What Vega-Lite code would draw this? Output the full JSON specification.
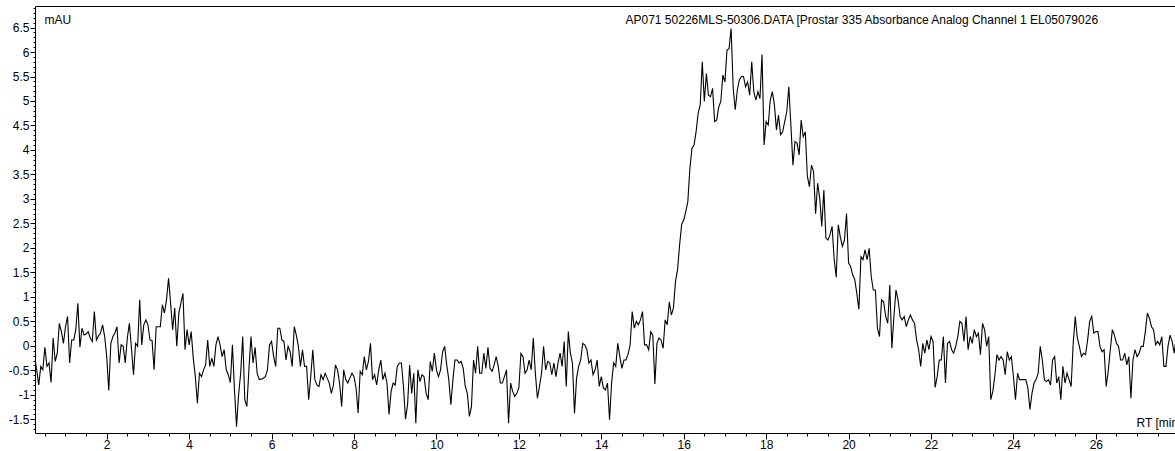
{
"$schema": "https://vega.github.io/schema/vega-lite/v6.json",
"autosize": {"type": "none"},
"padding": {"left": 35, "top": 6, "right": 0, "bottom": 18},
"width": 1140,
"height": 427,
"background": "white",
"config": {
 "view": {"stroke": null},
 "font": "Liberation Sans",
 "axis": {"grid": false, "domainColor": "black", "domainWidth": 1, "tickColor": "black", "tickWidth": 1, "labelColor": "black", "labelFont": "Liberation Sans", "labelFontSize": 12, "titleFont": "Liberation Sans", "titleFontSize": 12, "titleFontWeight": "normal", "titleColor": "black"}
},
"data": {"values": [
{"t":0.25,"v":-0.22},{"t":0.30,"v":-0.49},{"t":0.35,"v":-0.80},{"t":0.40,"v":-0.42},{"t":0.45,"v":-0.49},{"t":0.50,"v":-0.03},{"t":0.55,"v":-0.42},{"t":0.60,"v":-0.35},{"t":0.65,"v":-0.75},{"t":0.70,"v":0.16},{"t":0.75,"v":-0.32},{"t":0.80,"v":-0.15},{"t":0.85,"v":0.46},{"t":0.90,"v":0.29},{"t":0.95,"v":0.05},{"t":1.00,"v":0.39},{"t":1.05,"v":0.60},{"t":1.10,"v":-0.35},{"t":1.15,"v":0.12},{"t":1.20,"v":0.12},{"t":1.25,"v":0.33},{"t":1.30,"v":0.87},{"t":1.35,"v":-0.03},{"t":1.40,"v":0.36},{"t":1.45,"v":0.22},{"t":1.50,"v":0.24},{"t":1.55,"v":0.29},{"t":1.60,"v":0.16},{"t":1.65,"v":0.09},{"t":1.70,"v":0.70},{"t":1.75,"v":0.12},{"t":1.80,"v":0.20},{"t":1.85,"v":0.26},{"t":1.90,"v":0.43},{"t":1.95,"v":0.19},{"t":2.00,"v":-0.22},{"t":2.05,"v":-0.91},{"t":2.10,"v":0.05},{"t":2.15,"v":0.19},{"t":2.20,"v":0.26},{"t":2.25,"v":0.39},{"t":2.30,"v":-0.35},{"t":2.35,"v":0.02},{"t":2.40,"v":-0.01},{"t":2.45,"v":-0.35},{"t":2.50,"v":0.16},{"t":2.55,"v":0.46},{"t":2.60,"v":-0.05},{"t":2.65,"v":-0.59},{"t":2.70,"v":0.05},{"t":2.75,"v":-0.01},{"t":2.80,"v":0.94},{"t":2.85,"v":0.02},{"t":2.90,"v":0.43},{"t":2.95,"v":0.53},{"t":3.00,"v":0.43},{"t":3.05,"v":0.12},{"t":3.10,"v":0.11},{"t":3.15,"v":-0.49},{"t":3.20,"v":0.39},{"t":3.25,"v":0.39},{"t":3.30,"v":0.39},{"t":3.35,"v":0.84},{"t":3.40,"v":0.67},{"t":3.45,"v":0.94},{"t":3.50,"v":1.38},{"t":3.55,"v":0.87},{"t":3.60,"v":0.33},{"t":3.65,"v":0.77},{"t":3.70,"v":-0.01},{"t":3.75,"v":0.67},{"t":3.80,"v":0.87},{"t":3.85,"v":1.07},{"t":3.90,"v":-0.08},{"t":3.95,"v":0.33},{"t":4.00,"v":0.02},{"t":4.05,"v":0.29},{"t":4.10,"v":-0.25},{"t":4.15,"v":-0.63},{"t":4.20,"v":-1.17},{"t":4.25,"v":-0.56},{"t":4.30,"v":-0.63},{"t":4.35,"v":-0.49},{"t":4.40,"v":-0.39},{"t":4.45,"v":0.12},{"t":4.50,"v":-0.42},{"t":4.55,"v":-0.25},{"t":4.60,"v":-0.42},{"t":4.65,"v":0.02},{"t":4.70,"v":0.19},{"t":4.75,"v":0.02},{"t":4.80,"v":-0.22},{"t":4.85,"v":-0.08},{"t":4.90,"v":-0.49},{"t":4.95,"v":-0.59},
{"t":5.00,"v":-0.75},{"t":5.05,"v":0.02},{"t":5.10,"v":-0.90},{"t":5.15,"v":-1.65},{"t":5.20,"v":-1.00},{"t":5.25,"v":-0.56},{"t":5.30,"v":0.19},{"t":5.35,"v":-1.10},{"t":5.40,"v":-1.24},{"t":5.45,"v":-0.49},{"t":5.50,"v":0.19},{"t":5.55,"v":-0.35},{"t":5.60,"v":-0.03},{"t":5.65,"v":-0.56},{"t":5.70,"v":-0.69},{"t":5.75,"v":-0.68},{"t":5.80,"v":-0.66},{"t":5.85,"v":-0.63},{"t":5.90,"v":-0.49},{"t":5.95,"v":0.02},{"t":6.00,"v":0.09},{"t":6.05,"v":-0.22},{"t":6.10,"v":-0.42},{"t":6.15,"v":0.36},{"t":6.20,"v":0.36},{"t":6.25,"v":0.12},{"t":6.30,"v":0.09},{"t":6.35,"v":-0.29},{"t":6.40,"v":-0.01},{"t":6.45,"v":-0.12},{"t":6.50,"v":-0.42},{"t":6.55,"v":0.39},{"t":6.60,"v":0.22},{"t":6.65,"v":-0.01},{"t":6.70,"v":-0.42},{"t":6.75,"v":-0.08},{"t":6.80,"v":-0.42},{"t":6.85,"v":-0.42},{"t":6.90,"v":-1.10},{"t":6.95,"v":-0.63},{"t":7.00,"v":-0.08},{"t":7.05,"v":-0.69},{"t":7.10,"v":-0.80},{"t":7.15,"v":-0.83},{"t":7.20,"v":-0.59},{"t":7.25,"v":-0.69},{"t":7.30,"v":-0.56},{"t":7.35,"v":-0.66},{"t":7.40,"v":-0.76},{"t":7.45,"v":-0.97},{"t":7.50,"v":-0.80},{"t":7.55,"v":-0.39},{"t":7.60,"v":-0.49},{"t":7.65,"v":-0.76},{"t":7.70,"v":-1.24},{"t":7.75,"v":-0.49},{"t":7.80,"v":-0.69},{"t":7.85,"v":-0.76},{"t":7.90,"v":-0.66},{"t":7.95,"v":-0.56},{"t":8.00,"v":-0.63},{"t":8.05,"v":-0.86},{"t":8.10,"v":-1.37},{"t":8.15,"v":-0.52},{"t":8.20,"v":-0.59},{"t":8.25,"v":-0.22},{"t":8.30,"v":-0.49},{"t":8.35,"v":-0.32},{"t":8.40,"v":0.05},{"t":8.45,"v":-0.69},{"t":8.50,"v":-0.59},{"t":8.55,"v":-0.80},{"t":8.60,"v":-0.49},{"t":8.65,"v":-0.29},{"t":8.70,"v":-0.69},{"t":8.75,"v":-0.56},{"t":8.80,"v":-0.76},{"t":8.85,"v":-1.40},{"t":8.90,"v":-0.93},{"t":8.95,"v":-0.76},{"t":9.00,"v":-0.80},{"t":9.05,"v":-0.42},{"t":9.10,"v":-0.35},{"t":9.15,"v":-0.35},{"t":9.20,"v":-0.83},{"t":9.25,"v":-1.50},{"t":9.30,"v":-1.20},{"t":9.35,"v":-0.39},{"t":9.40,"v":-0.97},{"t":9.45,"v":-0.56},{"t":9.50,"v":-1.58},{"t":9.55,"v":-0.49},{"t":9.60,"v":-0.73},{"t":9.65,"v":-0.59},{"t":9.70,"v":-0.63},
{"t":9.75,"v":-0.97},{"t":9.80,"v":-1.10},{"t":9.85,"v":-0.32},{"t":9.90,"v":-0.52},{"t":9.95,"v":-0.15},{"t":10.00,"v":-0.49},{"t":10.05,"v":-0.63},{"t":10.10,"v":-0.49},{"t":10.15,"v":-0.12},{"t":10.20,"v":-0.01},{"t":10.25,"v":-0.39},{"t":10.30,"v":-0.69},{"t":10.35,"v":-1.20},{"t":10.40,"v":-0.69},{"t":10.45,"v":-0.29},{"t":10.50,"v":-0.29},{"t":10.55,"v":-0.35},{"t":10.60,"v":-0.32},{"t":10.65,"v":-0.46},{"t":10.70,"v":-0.83},{"t":10.75,"v":-0.97},{"t":10.80,"v":-1.44},{"t":10.85,"v":-1.24},{"t":10.90,"v":-0.29},{"t":10.95,"v":-0.56},{"t":11.00,"v":-0.01},{"t":11.05,"v":-0.56},{"t":11.10,"v":-0.56},{"t":11.15,"v":-0.15},{"t":11.20,"v":-0.46},{"t":11.25,"v":-0.03},{"t":11.30,"v":-0.46},{"t":11.35,"v":-0.52},{"t":11.40,"v":-0.39},{"t":11.45,"v":-0.22},{"t":11.50,"v":-0.42},{"t":11.55,"v":-0.76},{"t":11.60,"v":-0.76},{"t":11.65,"v":-0.63},{"t":11.70,"v":-0.49},{"t":11.75,"v":-1.58},{"t":11.80,"v":-0.76},{"t":11.85,"v":-0.93},{"t":11.90,"v":-1.03},{"t":11.95,"v":-0.97},{"t":12.00,"v":-0.86},{"t":12.05,"v":-0.15},{"t":12.10,"v":-0.22},{"t":12.15,"v":-0.56},{"t":12.20,"v":-0.49},{"t":12.25,"v":-0.29},{"t":12.30,"v":-0.49},{"t":12.35,"v":0.16},{"t":12.40,"v":-0.56},{"t":12.45,"v":-1.07},{"t":12.50,"v":-0.83},{"t":12.55,"v":-0.56},{"t":12.60,"v":-0.01},{"t":12.65,"v":-0.49},{"t":12.70,"v":-0.32},{"t":12.75,"v":-0.35},{"t":12.80,"v":-0.59},{"t":12.85,"v":-0.35},{"t":12.90,"v":-0.63},{"t":12.95,"v":-0.35},{"t":13.00,"v":-0.15},{"t":13.05,"v":-0.42},{"t":13.10,"v":0.09},{"t":13.15,"v":-0.83},{"t":13.20,"v":0.29},{"t":13.25,"v":-0.15},{"t":13.30,"v":-0.35},{"t":13.35,"v":-1.38},{"t":13.40,"v":-0.66},{"t":13.45,"v":-0.42},{"t":13.50,"v":-0.29},{"t":13.55,"v":0.05},{"t":13.60,"v":0.02},{"t":13.65,"v":-0.08},{"t":13.70,"v":-0.35},{"t":13.75,"v":-0.29},{"t":13.80,"v":-0.59},{"t":13.85,"v":-0.49},{"t":13.90,"v":-0.29},{"t":13.95,"v":-0.83},{"t":14.00,"v":-0.63},{"t":14.05,"v":-0.86},{"t":14.10,"v":-0.90},{"t":14.15,"v":-0.76},{"t":14.20,"v":-1.51},{"t":14.25,"v":-0.76},{"t":14.30,"v":-0.35},{"t":14.35,"v":-0.42},{"t":14.40,"v":0.05},{"t":14.45,"v":-0.22},
{"t":14.50,"v":-0.46},{"t":14.55,"v":-0.29},{"t":14.60,"v":-0.29},{"t":14.65,"v":-0.17},{"t":14.70,"v":0.02},{"t":14.75,"v":0.70},{"t":14.80,"v":0.36},{"t":14.85,"v":0.50},{"t":14.90,"v":0.43},{"t":14.95,"v":0.53},{"t":15.00,"v":0.70},{"t":15.05,"v":0.02},{"t":15.10,"v":0.02},{"t":15.15,"v":-0.08},{"t":15.20,"v":0.29},{"t":15.25,"v":0.22},{"t":15.30,"v":-0.78},{"t":15.35,"v":0.05},{"t":15.40,"v":0.16},{"t":15.45,"v":0.12},{"t":15.50,"v":-0.05},{"t":15.55,"v":0.53},{"t":15.60,"v":0.43},{"t":15.65,"v":0.90},{"t":15.70,"v":0.63},{"t":15.75,"v":0.77},{"t":15.80,"v":1.31},{"t":15.85,"v":1.55},{"t":15.90,"v":2.06},{"t":15.95,"v":2.48},{"t":16.00,"v":2.57},{"t":16.05,"v":2.74},{"t":16.10,"v":2.95},{"t":16.15,"v":3.63},{"t":16.20,"v":4.03},{"t":16.25,"v":4.10},{"t":16.30,"v":4.37},{"t":16.35,"v":4.75},{"t":16.40,"v":4.92},{"t":16.45,"v":5.80},{"t":16.50,"v":4.99},{"t":16.55,"v":5.56},{"t":16.60,"v":5.12},{"t":16.65,"v":5.09},{"t":16.70,"v":5.26},{"t":16.75,"v":4.58},{"t":16.80,"v":4.61},{"t":16.85,"v":4.88},{"t":16.90,"v":4.99},{"t":16.95,"v":5.53},{"t":17.00,"v":5.39},{"t":17.05,"v":6.04},{"t":17.10,"v":6.07},{"t":17.15,"v":6.48},{"t":17.20,"v":5.26},{"t":17.25,"v":4.82},{"t":17.30,"v":5.22},{"t":17.35,"v":5.43},{"t":17.40,"v":5.50},{"t":17.45,"v":5.50},{"t":17.50,"v":5.29},{"t":17.55,"v":5.39},{"t":17.60,"v":5.12},{"t":17.65,"v":5.80},{"t":17.70,"v":5.19},{"t":17.75,"v":5.02},{"t":17.80,"v":5.19},{"t":17.85,"v":5.05},{"t":17.90,"v":5.95},{"t":17.95,"v":4.10},{"t":18.00,"v":4.58},{"t":18.05,"v":4.51},{"t":18.10,"v":5.02},{"t":18.15,"v":5.19},{"t":18.20,"v":4.92},{"t":18.25,"v":4.41},{"t":18.30,"v":4.71},{"t":18.35,"v":4.31},{"t":18.40,"v":4.37},{"t":18.45,"v":4.58},{"t":18.50,"v":4.78},{"t":18.55,"v":5.29},{"t":18.60,"v":4.51},{"t":18.65,"v":3.69},{"t":18.70,"v":4.17},{"t":18.75,"v":4.14},{"t":18.80,"v":3.90},
{"t":18.85,"v":4.61},{"t":18.90,"v":4.27},{"t":18.95,"v":4.37},{"t":19.00,"v":3.46},{"t":19.05,"v":3.25},{"t":19.10,"v":3.69},{"t":19.15,"v":3.56},{"t":19.20,"v":2.70},{"t":19.25,"v":3.32},{"t":19.30,"v":3.01},{"t":19.35,"v":2.44},{"t":19.40,"v":3.18},{"t":19.45,"v":2.20},{"t":19.50,"v":2.16},{"t":19.55,"v":2.27},{"t":19.60,"v":2.44},{"t":19.65,"v":1.77},{"t":19.70,"v":1.40},{"t":19.75,"v":2.47},{"t":19.80,"v":2.22},{"t":19.85,"v":2.03},{"t":19.90,"v":2.16},{"t":19.95,"v":2.70},{"t":20.00,"v":1.69},{"t":20.05,"v":1.62},{"t":20.10,"v":1.45},{"t":20.15,"v":1.35},{"t":20.20,"v":1.07},{"t":20.25,"v":0.75},{"t":20.30,"v":1.82},{"t":20.35,"v":1.76},{"t":20.40,"v":1.96},{"t":20.45,"v":1.76},{"t":20.50,"v":1.99},{"t":20.55,"v":1.41},{"t":20.60,"v":1.14},{"t":20.65,"v":1.14},{"t":20.70,"v":0.36},{"t":20.75,"v":0.19},{"t":20.80,"v":0.94},{"t":20.85,"v":0.90},{"t":20.90,"v":0.60},{"t":20.95,"v":0.46},{"t":21.00,"v":1.24},{"t":21.05,"v":-0.05},{"t":21.10,"v":0.60},{"t":21.15,"v":1.14},{"t":21.20,"v":0.94},{"t":21.25,"v":0.60},{"t":21.30,"v":0.53},{"t":21.35,"v":0.60},{"t":21.40,"v":0.39},{"t":21.45,"v":0.53},{"t":21.50,"v":0.63},{"t":21.55,"v":0.53},{"t":21.60,"v":0.46},{"t":21.65,"v":0.12},{"t":21.70,"v":-0.08},{"t":21.75,"v":-0.42},{"t":21.80,"v":0.05},{"t":21.85,"v":-0.15},{"t":21.90,"v":0.12},{"t":21.95,"v":-0.08},{"t":22.00,"v":0.19},{"t":22.05,"v":0.09},{"t":22.10,"v":-0.85},{"t":22.15,"v":-0.63},{"t":22.20,"v":-0.29},{"t":22.25,"v":-0.29},{"t":22.30,"v":0.19},{"t":22.35,"v":-0.76},{"t":22.40,"v":0.05},{"t":22.45,"v":0.09},{"t":22.50,"v":-0.08},{"t":22.55,"v":-0.15},{"t":22.60,"v":-0.01},{"t":22.65,"v":0.19},{"t":22.70,"v":0.50},{"t":22.75,"v":0.46},{"t":22.80,"v":0.09},{"t":22.85,"v":0.60},{"t":22.90,"v":-0.08},{"t":22.95,"v":0.19},{"t":23.00,"v":0.05},{"t":23.05,"v":0.33},{"t":23.10,"v":0.19},{"t":23.15,"v":0.26},{"t":23.20,"v":-0.18},{"t":23.25,"v":0.46},{"t":23.30,"v":0.33},{"t":23.35,"v":-0.01},{"t":23.40,"v":0.19},{"t":23.45,"v":-1.10},{"t":23.50,"v":-0.93},
{"t":23.55,"v":-0.60},{"t":23.60,"v":-0.18},{"t":23.65,"v":-0.29},{"t":23.70,"v":-0.22},{"t":23.75,"v":-0.29},{"t":23.80,"v":-0.59},{"t":23.85,"v":-0.12},{"t":23.90,"v":-0.29},{"t":23.95,"v":-0.22},{"t":24.00,"v":-0.63},{"t":24.05,"v":-1.10},{"t":24.10,"v":-0.56},{"t":24.15,"v":-0.69},{"t":24.20,"v":-0.69},{"t":24.25,"v":-0.69},{"t":24.30,"v":-0.69},{"t":24.35,"v":-0.86},{"t":24.40,"v":-1.30},{"t":24.45,"v":-0.97},{"t":24.50,"v":-0.76},{"t":24.55,"v":-0.69},{"t":24.60,"v":-0.56},{"t":24.65,"v":-0.01},{"t":24.70,"v":-0.29},{"t":24.75,"v":-0.69},{"t":24.80,"v":-0.73},{"t":24.85,"v":-0.69},{"t":24.90,"v":-0.80},{"t":24.95,"v":-0.29},{"t":25.00,"v":-0.22},{"t":25.05,"v":-0.76},{"t":25.10,"v":-0.63},{"t":25.15,"v":-1.10},{"t":25.20,"v":-0.42},{"t":25.25,"v":-0.76},{"t":25.30,"v":-0.56},{"t":25.35,"v":-0.69},{"t":25.40,"v":-0.83},{"t":25.45,"v":0.05},{"t":25.50,"v":0.60},{"t":25.55,"v":0.16},{"t":25.60,"v":-0.01},{"t":25.65,"v":-0.22},{"t":25.70,"v":-0.15},{"t":25.75,"v":-0.18},{"t":25.80,"v":0.12},{"t":25.85,"v":0.50},{"t":25.90,"v":0.60},{"t":25.95,"v":0.26},{"t":26.00,"v":0.29},{"t":26.05,"v":0.29},{"t":26.10,"v":-0.01},{"t":26.15,"v":-0.12},{"t":26.20,"v":-0.08},{"t":26.25,"v":-0.83},{"t":26.30,"v":-0.52},{"t":26.35,"v":-0.08},{"t":26.40,"v":0.33},{"t":26.45,"v":0.22},{"t":26.50,"v":0.05},{"t":26.55,"v":-0.01},{"t":26.60,"v":-0.29},{"t":26.65,"v":-0.29},{"t":26.70,"v":-0.15},{"t":26.75,"v":-0.39},{"t":26.80,"v":-0.22},{"t":26.85,"v":-1.07},{"t":26.90,"v":-0.29},{"t":26.95,"v":-0.08},{"t":27.00,"v":-0.22},{"t":27.05,"v":-0.15},{"t":27.10,"v":-0.01},{"t":27.15,"v":-0.01},{"t":27.20,"v":0.29},{"t":27.25,"v":0.67},{"t":27.30,"v":0.56},{"t":27.35,"v":0.39},{"t":27.40,"v":0.33},{"t":27.45,"v":0.02},{"t":27.50,"v":0.09},{"t":27.55,"v":0.02},{"t":27.60,"v":0.19},{"t":27.65,"v":-0.42},{"t":27.70,"v":-0.42},{"t":27.75,"v":-0.01},{"t":27.80,"v":0.22},{"t":27.85,"v":0.09},{"t":27.90,"v":-0.15},{"t":27.95,"v":0.19}
]},
"layer": [
 {
  "mark": {"type": "line", "color": "black", "strokeWidth": 1.1, "clip": true},
  "encoding": {
   "x": {"field": "t", "type": "quantitative",
     "scale": {"domain": [0.26, 27.92], "nice": false, "zero": false},
     "axis": {"orient": "bottom", "tickCount": 500,
       "values": [0.5,1,1.5,2,2.5,3,3.5,4,4.5,5,5.5,6,6.5,7,7.5,8,8.5,9,9.5,10,10.5,11,11.5,12,12.5,13,13.5,14,14.5,15,15.5,16,16.5,17,17.5,18,18.5,19,19.5,20,20.5,21,21.5,22,22.5,23,23.5,24,24.5,25,25.5,26,26.5,27,27.5],
       "labelExpr": "datum.value % 2 === 0 ? toString(datum.value) : ''",
       "tickSize": {"condition": {"test": "datum.value % 2 === 0", "value": 6}, "value": 3},
       "labelPadding": 0, "labelFlush": false, "labelOverlap": false,
       "title": "RT [min]", "titleAlign": "left", "titleBaseline": "alphabetic", "titleX": 1101, "titleY": -7}},
   "y": {"field": "v", "type": "quantitative",
     "scale": {"domain": [-1.78, 6.94], "nice": false, "zero": false},
     "axis": {"orient": "left", "tickCount": 500,
       "values": [-1.7,-1.6,-1.5,-1.4,-1.3,-1.2,-1.1,-1.0,-0.9,-0.8,-0.7,-0.6,-0.5,-0.4,-0.3,-0.2,-0.1,0,0.1,0.2,0.3,0.4,0.5,0.6,0.7,0.8,0.9,1.0,1.1,1.2,1.3,1.4,1.5,1.6,1.7,1.8,1.9,2.0,2.1,2.2,2.3,2.4,2.5,2.6,2.7,2.8,2.9,3.0,3.1,3.2,3.3,3.4,3.5,3.6,3.7,3.8,3.9,4.0,4.1,4.2,4.3,4.4,4.5,4.6,4.7,4.8,4.9,5.0,5.1,5.2,5.3,5.4,5.5,5.6,5.7,5.8,5.9,6.0,6.1,6.2,6.3,6.4,6.5,6.6,6.7,6.8,6.9],
       "labelExpr": "abs(datum.value*2 - round(datum.value*2)) < 0.001 ? toString(round(datum.value*10)/10) : ''",
       "tickSize": {"condition": {"test": "abs(datum.value*2 - round(datum.value*2)) < 0.001", "value": 5}, "value": 2},
       "labelPadding": 1, "labelFlush": false, "labelOverlap": false,
       "title": "mAU", "titleAngle": 0, "titleAlign": "left", "titleBaseline": "alphabetic", "titleX": 9, "titleY": 17}}
  }
 },
 {
  "mark": {"type": "line", "opacity": 0},
  "encoding": {
   "x": {"field": "t", "type": "quantitative",
     "axis": {"orient": "top", "labels": false, "ticks": false, "domain": true,
       "title": "AP071 50226MLS-50306.DATA [Prostar 335 Absorbance Analog Channel 1 EL05079026",
       "titleAlign": "left", "titleBaseline": "alphabetic", "titleX": 590, "titleY": 17}},
   "y": {"field": "v", "type": "quantitative"}
  }
 }
],
"resolve": {"axis": {"x": "independent"}}
}
